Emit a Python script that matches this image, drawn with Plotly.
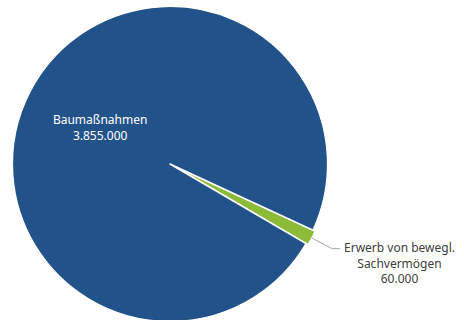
import math
import plotly.graph_objects as go

labels = ["Erwerb von bewegl.<br>Sachvermögen", "Baumaßnahmen"]
values = [60000, 3855000]
colors = ["#8bbb37", "#22528a"]
text_positions = ["none", "inside"]
pulls = [0.015, 0]
ROTATION = 114.8

# figure / plot box geometry (pixels)
W, H = 464, 324
ML, MR, MT, MB = 10, 134, 4, 0
BOX_W, BOX_H = W - ML - MR, H - MT - MB

FONT = "Noto Sans"
FSIZE = 12

fig = go.Figure(go.Pie(
    labels=labels,
    values=values,
    sort=False,
    direction="clockwise",
    rotation=ROTATION,
    pull=pulls,
    marker=dict(colors=colors, line=dict(color="white", width=1.5)),
    textposition=text_positions,
    texttemplate="%{label}<br>%{value:,}",
    textfont=dict(family=FONT, size=FSIZE),
    insidetextfont=dict(color="white"),
    insidetextorientation="horizontal",
    showlegend=False,
    hoverinfo="label+value",
))

# outside label for the small slice, placed from the data-derived slice angle
total = sum(values)
frac = values[0] / total
theta = math.radians(ROTATION + 360 * frac / 2)
cx, cy = ML + BOX_W / 2, MT + BOX_H / 2
r = min(BOX_W, BOX_H) / 2 / (1 + max(pulls))
r_out = r * (1 + pulls[0])
ux, uy = math.sin(theta), -math.cos(theta)
p0 = (cx + r_out * ux, cy + r_out * uy)
p1 = (p0[0] + 23 * ux, p0[1] + 23 * uy)
p2 = (p1[0] + 8, p1[1])


def px2paper(x, y):
    return (x - ML) / BOX_W, 1 - (y - MT) / BOX_H


q0, q1, q2 = px2paper(*p0), px2paper(*p1), px2paper(*p2)
path = f"M {q0[0]},{q0[1]} L {q1[0]},{q1[1]} L {q2[0]},{q2[1]}"
tx, ty = px2paper(p2[0] + 2, p2[1] - 12)

value_str = f"{values[0]:,}".replace(",", ".")

fig.update_layout(
    width=W, height=H,
    margin=dict(l=ML, r=MR, t=MT, b=MB),
    separators=",.",
    paper_bgcolor="white",
    plot_bgcolor="white",
    shapes=[dict(type="path", xref="paper", yref="paper", path=path,
                 line=dict(color="#a6a6a6", width=1))],
    annotations=[dict(
        xref="paper", yref="paper", x=tx, y=ty,
        xanchor="left", yanchor="top", align="center", showarrow=False,
        text=f"{labels[0]}<br>{value_str}",
        font=dict(family=FONT, size=FSIZE, color="#404040"),
    )],
)

fig.write_html(
    "out.html",
    config={"displayModeBar": False},
    post_script="document.body.style.margin='0';document.body.style.overflow='hidden';",
)
